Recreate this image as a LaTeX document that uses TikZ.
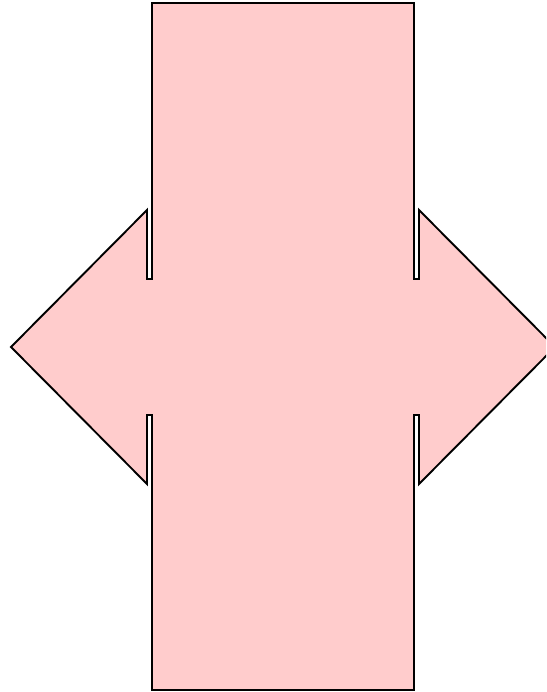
\documentclass[tikz,border=0pt]{standalone}
\usepackage{xcolor}
\definecolor{shapefill}{HTML}{FFCCCC}
\tikzset{crossarrow/.style={fill=shapefill, draw=black, line width=1.9pt, line join=miter}}
\begin{document}
\begin{tikzpicture}[x=1pt,y=-1pt]
\useasboundingbox (0,0) rectangle (546,692);
\clip (0,0) rectangle (546,692);
\fill[white] (0,0) rectangle (546,692);
\draw[crossarrow]
  (152,3) -- (152,279) -- (147,279) -- (147,210) -- (11,347) -- (147,484)
  -- (147,415) -- (152,415) -- (152,690) -- (414,690) -- (414,415) -- (419,415)
  -- (419,484) -- (555,347) -- (419,210) -- (419,279) -- (414,279) -- (414,3) -- cycle;
\end{tikzpicture}
\end{document}
